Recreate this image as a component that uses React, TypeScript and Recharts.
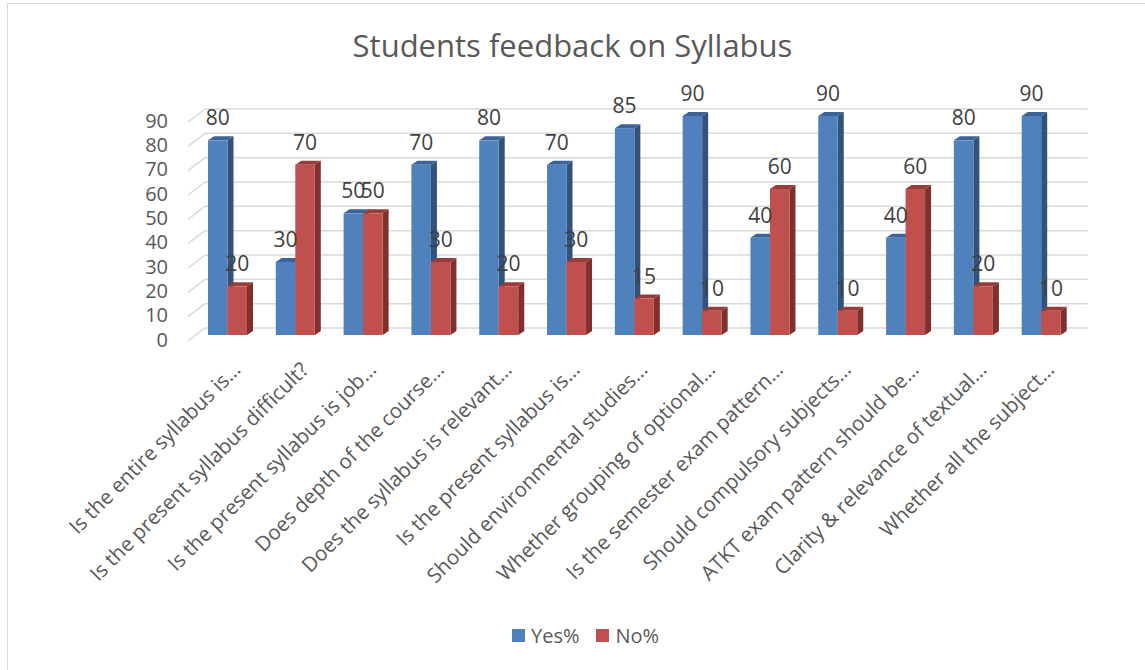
import React from 'react';
import { BarChart, Bar, XAxis, YAxis, CartesianGrid, LabelList } from 'recharts';

const categories = [
  'Is the entire syllabus is…',
  'Is the present syllabus difficult?',
  'Is the present syllabus is job…',
  'Does depth of the course…',
  'Does the syllabus is relevant…',
  'Is the present syllabus is…',
  'Should environmental studies…',
  'Whether grouping of optional…',
  'Is the semester exam pattern…',
  'Should compulsory subjects…',
  'ATKT exam pattern should be…',
  'Clarity & relevance of textual…',
  'Whether all the subject…',
];
const yesValues = [80, 30, 50, 70, 80, 70, 85, 90, 40, 90, 40, 80, 90];
const noValues = [20, 70, 50, 30, 20, 30, 15, 10, 60, 10, 60, 20, 10];
const yTicks = [0, 10, 20, 30, 40, 50, 60, 70, 80, 90];

const data = categories.map((name, i) => ({ name, yes: yesValues[i], no: noValues[i] }));

const FONT = '"Open Sans", sans-serif';
const TEXT = '#595959';
const DX = 6;
const DY = 4;

// front face + right side + top, like Excel's 3D clustered column
const make3dBar = (front: string, side: string, top: string) => (props: any) => {
  const { x, y, width, height } = props;
  if (height == null || height <= 0) return <g />;
  return (
    <g>
      <polygon
        points={`${x + width},${y} ${x + width + DX},${y - DY} ${x + width + DX},${y + height - DY} ${x + width},${y + height}`}
        fill={side}
      />
      <polygon
        points={`${x},${y} ${x + DX},${y - DY} ${x + width + DX},${y - DY} ${x + width},${y}`}
        fill={top}
      />
      <rect x={x} y={y} width={width} height={height} fill={front} />
    </g>
  );
};

const valueLabel = (props: any) => {
  const { x, y, width, value } = props;
  return (
    <text
      x={x + width / 2}
      y={y - 23}
      textAnchor="middle"
      dominantBaseline="central"
      fontFamily={FONT}
      fontSize={21}
      fill="#404040"
    >
      {value}
    </text>
  );
};

const gridLine = (props: any) => {
  const { y1, x2, index } = props;
  const yb = y1 - 7;
  return (
    <g key={`gl-${index}`}>
      <line x1={188} y1={yb + 13} x2={205} y2={yb} stroke="#d9d9d9" strokeWidth={1.5} />
      <line x1={205} y1={yb} x2={x2 + 12} y2={yb} stroke="#d9d9d9" strokeWidth={1.5} />
    </g>
  );
};

const YTick = (props: any) => {
  const { y, payload } = props;
  return (
    <text x={168} y={y + 4} textAnchor="end" dominantBaseline="central" fontFamily={FONT} fontSize={20} fill={TEXT}>
      {payload.value}
    </text>
  );
};

const XTick = (props: any) => {
  const { x, y, payload } = props;
  const ax = x + 14;
  const ay = y + 28;
  return (
    <text
      x={ax}
      y={ay}
      transform={`rotate(-45, ${ax}, ${ay})`}
      textAnchor="end"
      fontFamily={FONT}
      fontSize={20.5}
      fill={TEXT}
    >
      {payload.value}
    </text>
  );
};

export default function App() {
  return (
    <div style={{ position: 'relative', width: 1145, height: 670, overflow: 'hidden', background: '#fff' }}>
      <style dangerouslySetInnerHTML={{ __html: `body { margin: 0; }` }} />
      <div
        style={{
          position: 'absolute',
          left: 7,
          top: 3,
          width: 1160,
          height: 700,
          border: '1.5px solid #d9d9d9',
          boxSizing: 'border-box',
        }}
      />
      <div
        style={{
          position: 'absolute',
          left: 0,
          width: 1145,
          top: 24,
          textAlign: 'center',
          fontFamily: FONT,
          fontSize: 31,
          color: TEXT,
          lineHeight: '42px',
        }}
      >
        Students feedback on Syllabus
      </div>
      <div style={{ position: 'absolute', left: 0, top: 0 }}>
        <BarChart
          width={1145}
          height={670}
          data={data}
          margin={{ top: 116, right: 69.5, left: 0, bottom: 95 }}
          barGap={0}
          barSize={19.5}
        >
          <CartesianGrid vertical={false} horizontal={gridLine} />
          <XAxis dataKey="name" height={240} interval={0} axisLine={false} tickLine={false} tick={<XTick />} />
          <YAxis
            width={194}
            domain={[0, 90]}
            ticks={yTicks}
            interval={0}
            axisLine={false}
            tickLine={false}
            tick={<YTick />}
          />
          <Bar dataKey="yes" name="Yes%" isAnimationActive={false} shape={make3dBar('#4f81bd', '#33527b', '#3c6496')}>
            <LabelList dataKey="yes" content={valueLabel} />
          </Bar>
          <Bar dataKey="no" name="No%" isAnimationActive={false} shape={make3dBar('#c0504d', '#7f2f2d', '#963c3a')}>
            <LabelList dataKey="no" content={valueLabel} />
          </Bar>
        </BarChart>
      </div>
      <div
        style={{
          position: 'absolute',
          left: 512,
          top: 622,
          display: 'flex',
          alignItems: 'center',
          fontFamily: FONT,
          fontSize: 20,
          color: TEXT,
        }}
      >
        <span style={{ width: 13, height: 13, background: '#4f81bd', display: 'inline-block', marginRight: 6 }} />
        <span style={{ marginRight: 17 }}>Yes%</span>
        <span style={{ width: 13, height: 13, background: '#c0504d', display: 'inline-block', marginRight: 6 }} />
        <span>No%</span>
      </div>
    </div>
  );
}
